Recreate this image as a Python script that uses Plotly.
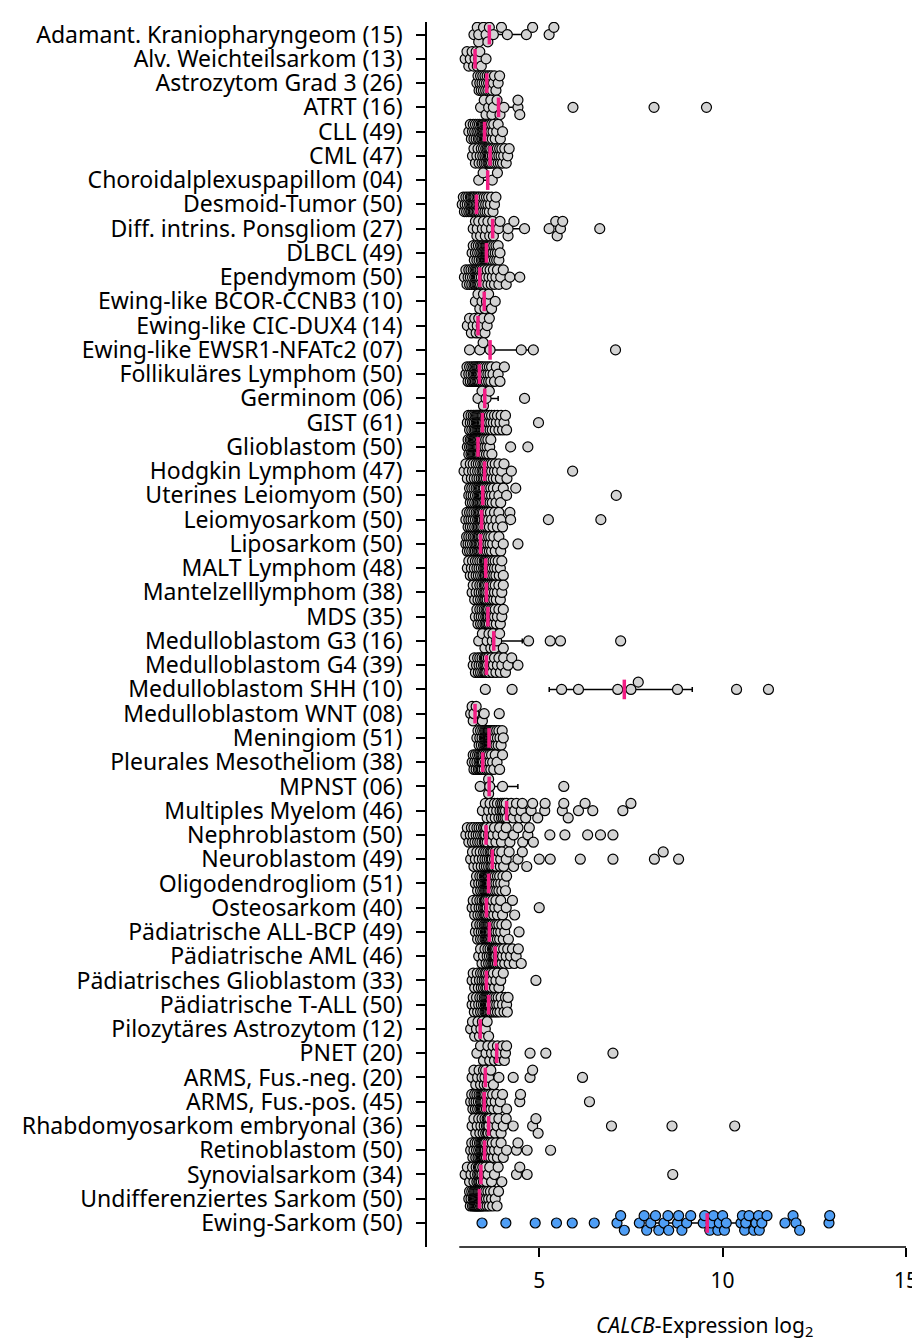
import numpy as np
import plotly.graph_objects as go

labels = [
    "Adamant. Kraniopharyngeom (15)", "Alv. Weichteilsarkom (13)", "Astrozytom Grad 3 (26)", "ATRT (16)",
    "CLL (49)", "CML (47)", "Choroidalplexuspapillom (04)", "Desmoid-Tumor (50)",
    "Diff. intrins. Ponsgliom (27)", "DLBCL (49)", "Ependymom (50)", "Ewing-like BCOR-CCNB3 (10)",
    "Ewing-like CIC-DUX4 (14)", "Ewing-like EWSR1-NFATc2 (07)", "Follikuläres Lymphom (50)", "Germinom (06)",
    "GIST (61)", "Glioblastom (50)", "Hodgkin Lymphom (47)", "Uterines Leiomyom (50)",
    "Leiomyosarkom (50)", "Liposarkom (50)", "MALT Lymphom (48)", "Mantelzelllymphom (38)",
    "MDS (35)", "Medulloblastom G3 (16)", "Medulloblastom G4 (39)", "Medulloblastom SHH (10)",
    "Medulloblastom WNT (08)", "Meningiom (51)", "Pleurales Mesotheliom (38)", "MPNST (06)",
    "Multiples Myelom (46)", "Nephroblastom (50)", "Neuroblastom (49)", "Oligodendrogliom (51)",
    "Osteosarkom (40)", "Pädiatrische ALL-BCP (49)", "Pädiatrische AML (46)", "Pädiatrisches Glioblastom (33)",
    "Pädiatrische T-ALL (50)", "Pilozytäres Astrozytom (12)", "PNET (20)", "ARMS, Fus.-neg. (20)",
    "ARMS, Fus.-pos. (45)", "Rhabdomyosarkom embryonal (36)", "Retinoblastom (50)", "Synovialsarkom (34)",
    "Undifferenziertes Sarkom (50)", "Ewing-Sarkom (50)",
]

adamant = [3.22, 3.31, 3.35, 3.35, 3.48, 3.55, 3.6, 3.64, 3.75, 3.97, 4.13, 4.65, 4.82, 5.27, 5.4]
alv = [2.98, 3.03, 3.08, 3.12, 3.17, 3.21, 3.25, 3.28, 3.31, 3.35, 3.38, 3.42, 3.55]
astro3 = [3.3, 3.33, 3.36, 3.38, 3.4, 3.42, 3.44, 3.46, 3.48, 3.5, 3.52, 3.54, 3.56, 3.58, 3.6, 3.62, 3.64,
          3.66, 3.68, 3.7, 3.72, 3.75, 3.78, 3.82, 3.88, 3.92]
atrt = [3.4, 3.5, 3.55, 3.62, 3.68, 3.71, 3.75, 3.85, 3.93, 4.04, 4.42, 4.42, 4.47, 5.92, 8.13, 9.56]
cll = [3.08, 3.12, 3.15, 3.18, 3.2, 3.22, 3.24, 3.26, 3.28, 3.3, 3.32, 3.34, 3.35, 3.37, 3.38, 3.4, 3.42,
       3.43, 3.44, 3.45, 3.46, 3.47, 3.48, 3.5, 3.51, 3.52, 3.53, 3.54, 3.55, 3.56, 3.57, 3.58, 3.6, 3.61,
       3.62, 3.63, 3.64, 3.65, 3.66, 3.68, 3.7, 3.72, 3.74, 3.76, 3.8, 3.84, 3.88, 3.94, 4.0]
cml = [3.18, 3.22, 3.26, 3.3, 3.33, 3.36, 3.39, 3.42, 3.44, 3.46, 3.48, 3.5, 3.52, 3.54, 3.55, 3.57, 3.58,
       3.6, 3.61, 3.62, 3.63, 3.64, 3.65, 3.66, 3.67, 3.68, 3.7, 3.72, 3.74, 3.76, 3.78, 3.8, 3.82, 3.84,
       3.86, 3.88, 3.9, 3.92, 3.94, 3.96, 3.98, 4.0, 4.03, 4.06, 4.1, 4.14, 4.18]
choroid = [3.35, 3.47, 3.72, 3.86]
desmoid = [2.9, 2.93, 2.96, 2.98, 3.0, 3.02, 3.04, 3.06, 3.08, 3.1, 3.12, 3.13, 3.14, 3.15, 3.16, 3.18, 3.19,
           3.2, 3.21, 3.22, 3.23, 3.24, 3.25, 3.27, 3.28, 3.3, 3.31, 3.32, 3.34, 3.35, 3.36, 3.38, 3.4, 3.42,
           3.44, 3.46, 3.48, 3.5, 3.52, 3.54, 3.56, 3.58, 3.6, 3.62, 3.64, 3.67, 3.7, 3.74, 3.78, 3.82]
dipg = [3.2, 3.26, 3.3, 3.31, 3.35, 3.4, 3.45, 3.48, 3.53, 3.55, 3.6, 3.65, 3.7, 3.73, 3.75, 3.89, 3.93, 4.15,
        4.15, 4.31, 4.6, 5.27, 5.45, 5.49, 5.58, 5.64, 6.65]
dlbcl = [3.17, 3.2, 3.23, 3.26, 3.28, 3.3, 3.32, 3.34, 3.36, 3.38, 3.4, 3.42, 3.43, 3.44, 3.46, 3.47, 3.48,
         3.5, 3.51, 3.52, 3.53, 3.54, 3.55, 3.55, 3.56, 3.57, 3.58, 3.59, 3.6, 3.61, 3.62, 3.63, 3.64, 3.65,
         3.66, 3.67, 3.68, 3.7, 3.72, 3.74, 3.76, 3.78, 3.8, 3.82, 3.84, 3.86, 3.88, 3.9, 3.93]
ependymom = [2.96, 3.0, 3.03, 3.06, 3.08, 3.1, 3.12, 3.14, 3.16, 3.18, 3.2, 3.22, 3.24, 3.25, 3.26, 3.28,
             3.29, 3.3, 3.31, 3.32, 3.33, 3.34, 3.35, 3.36, 3.37, 3.39, 3.4, 3.42, 3.44, 3.46, 3.48, 3.5,
             3.52, 3.55, 3.58, 3.6, 3.63, 3.66, 3.69, 3.72, 3.75, 3.78, 3.82, 3.86, 3.9, 3.95, 4.02, 4.1,
             4.2, 4.47]
bcor = [3.26, 3.33, 3.38, 3.44, 3.48, 3.52, 3.56, 3.62, 3.7, 3.8]
cicdux = [3.04, 3.1, 3.15, 3.2, 3.24, 3.28, 3.31, 3.35, 3.38, 3.42, 3.47, 3.52, 3.58, 3.64]
nfatc2 = [3.1, 3.38, 3.47, 3.66, 4.51, 4.84, 7.08]
follikulaer = [3.0, 3.03, 3.06, 3.08, 3.1, 3.12, 3.14, 3.16, 3.18, 3.2, 3.21, 3.22, 3.24, 3.25, 3.26, 3.28,
               3.29, 3.3, 3.31, 3.32, 3.33, 3.34, 3.35, 3.36, 3.36, 3.38, 3.39, 3.4, 3.42, 3.43, 3.45,
               3.46, 3.48, 3.5, 3.52, 3.54, 3.56, 3.58, 3.6, 3.62, 3.64, 3.66, 3.68, 3.7, 3.74, 3.78,
               3.83, 3.88, 3.93, 4.05]
germinom = [3.33, 3.44, 3.48, 3.55, 3.64, 4.6]
gist = [3.04, 3.07, 3.1, 3.12, 3.14, 3.16, 3.18, 3.2, 3.22, 3.23, 3.25, 3.26, 3.28, 3.29, 3.3, 3.31, 3.32,
        3.33, 3.34, 3.35, 3.36, 3.37, 3.38, 3.39, 3.4, 3.41, 3.42, 3.43, 3.44, 3.44, 3.45, 3.46, 3.47, 3.48,
        3.49, 3.5, 3.52, 3.53, 3.55, 3.56, 3.58, 3.6, 3.62, 3.64, 3.66, 3.68, 3.7, 3.72, 3.75, 3.78, 3.8,
        3.83, 3.86, 3.9, 3.93, 3.96, 4.0, 4.04, 4.08, 4.11, 4.98]
glioblastom = [3.04, 3.06, 3.08, 3.1, 3.12, 3.14, 3.15, 3.16, 3.18, 3.19, 3.2, 3.21, 3.22, 3.23, 3.24, 3.25,
               3.26, 3.27, 3.28, 3.29, 3.3, 3.31, 3.32, 3.32, 3.33, 3.33, 3.34, 3.35, 3.36, 3.37, 3.38,
               3.4, 3.41, 3.42, 3.44, 3.45, 3.46, 3.48, 3.5, 3.52, 3.54, 3.56, 3.58, 3.6, 3.62, 3.65,
               3.68, 3.71, 4.22, 4.69]
hodgkin = [2.95, 3.0, 3.04, 3.08, 3.12, 3.15, 3.18, 3.2, 3.23, 3.25, 3.28, 3.3, 3.32, 3.34, 3.36, 3.38, 3.4,
           3.42, 3.44, 3.46, 3.47, 3.48, 3.5, 3.51, 3.52, 3.54, 3.56, 3.58, 3.6, 3.62, 3.64, 3.66, 3.68,
           3.7, 3.72, 3.75, 3.78, 3.8, 3.83, 3.86, 3.9, 3.94, 3.98, 4.04, 4.12, 4.24, 5.91]
leiomyom = [3.08, 3.1, 3.12, 3.14, 3.16, 3.18, 3.2, 3.22, 3.24, 3.26, 3.28, 3.3, 3.32, 3.33, 3.34, 3.36,
            3.37, 3.38, 3.39, 3.4, 3.41, 3.42, 3.43, 3.45, 3.45, 3.47, 3.48, 3.49, 3.5, 3.52, 3.54, 3.56,
            3.58, 3.6, 3.62, 3.64, 3.66, 3.68, 3.7, 3.72, 3.75, 3.78, 3.82, 3.86, 3.9, 3.95, 4.02, 4.11,
            4.36, 7.1]
leiomyosarkom = [3.0, 3.03, 3.06, 3.08, 3.1, 3.12, 3.14, 3.16, 3.18, 3.2, 3.22, 3.24, 3.26, 3.28, 3.3,
                 3.32, 3.33, 3.34, 3.36, 3.37, 3.38, 3.39, 3.4, 3.42, 3.42, 3.44, 3.45, 3.46, 3.48, 3.5,
                 3.52, 3.54, 3.56, 3.58, 3.6, 3.62, 3.64, 3.67, 3.7, 3.74, 3.78, 3.82, 3.86, 3.9, 3.95,
                 4.0, 4.2, 4.22, 5.25, 6.68]
liposarkom = [3.0, 3.02, 3.04, 3.06, 3.08, 3.1, 3.12, 3.14, 3.16, 3.18, 3.2, 3.22, 3.24, 3.25, 3.26, 3.28,
              3.3, 3.31, 3.32, 3.34, 3.35, 3.36, 3.37, 3.38, 3.39, 3.41, 3.42, 3.43, 3.44, 3.46, 3.48,
              3.5, 3.52, 3.54, 3.56, 3.58, 3.6, 3.62, 3.64, 3.66, 3.68, 3.7, 3.73, 3.76, 3.8, 3.85, 3.9,
              3.95, 4.02, 4.42]
malt = [3.04, 3.08, 3.12, 3.15, 3.18, 3.2, 3.23, 3.26, 3.28, 3.3, 3.32, 3.34, 3.36, 3.38, 3.4, 3.42, 3.44,
        3.46, 3.48, 3.5, 3.51, 3.52, 3.53, 3.53, 3.55, 3.56, 3.57, 3.58, 3.6, 3.61, 3.62, 3.63, 3.64, 3.66,
        3.68, 3.7, 3.72, 3.74, 3.76, 3.78, 3.8, 3.82, 3.85, 3.88, 3.91, 3.94, 3.98, 4.02]
mantelzell = [3.17, 3.2, 3.24, 3.28, 3.3, 3.33, 3.36, 3.38, 3.4, 3.42, 3.44, 3.46, 3.48, 3.5, 3.51, 3.52,
              3.53, 3.54, 3.55, 3.57, 3.58, 3.6, 3.62, 3.64, 3.66, 3.68, 3.7, 3.72, 3.74, 3.76, 3.78, 3.8,
              3.83, 3.86, 3.9, 3.94, 3.98, 4.02]
mds = [3.26, 3.3, 3.33, 3.36, 3.38, 3.4, 3.42, 3.44, 3.46, 3.48, 3.5, 3.52, 3.54, 3.55, 3.56, 3.58, 3.59,
       3.6, 3.61, 3.62, 3.64, 3.66, 3.68, 3.7, 3.72, 3.74, 3.76, 3.78, 3.8, 3.83, 3.86, 3.9, 3.94, 3.98, 4.02]
medullo_g3 = [3.35, 3.45, 3.52, 3.58, 3.63, 3.68, 3.72, 3.74, 3.78, 3.84, 3.92, 4.02, 4.71, 5.3, 5.58, 7.22]
medullo_g4 = [3.2, 3.23, 3.26, 3.29, 3.32, 3.34, 3.36, 3.38, 3.4, 3.42, 3.44, 3.46, 3.48, 3.5, 3.51, 3.52,
              3.53, 3.54, 3.55, 3.56, 3.57, 3.59, 3.61, 3.63, 3.66, 3.69, 3.72, 3.75, 3.78, 3.82, 3.86, 3.9,
              3.94, 3.98, 4.03, 4.08, 4.15, 4.25, 4.42]
medullo_shh = [3.53, 4.26, 5.61, 6.07, 7.14, 7.5, 7.7, 8.77, 10.38, 11.25]
medullo_wnt = [3.13, 3.17, 3.2, 3.22, 3.28, 3.45, 3.5, 3.91]
meningiom = [3.3, 3.33, 3.36, 3.38, 3.4, 3.42, 3.44, 3.46, 3.48, 3.5, 3.51, 3.52, 3.53, 3.54, 3.55, 3.56,
             3.57, 3.58, 3.59, 3.6, 3.6, 3.61, 3.61, 3.62, 3.62, 3.63, 3.64, 3.64, 3.65, 3.66, 3.67, 3.68,
             3.69, 3.7, 3.71, 3.72, 3.73, 3.74, 3.75, 3.76, 3.78, 3.8, 3.82, 3.84, 3.86, 3.88, 3.9, 3.93,
             3.96, 3.99, 4.02]
mesotheliom = [3.17, 3.2, 3.22, 3.24, 3.26, 3.28, 3.3, 3.32, 3.34, 3.36, 3.37, 3.38, 3.4, 3.41, 3.42, 3.43,
               3.44, 3.45, 3.45, 3.47, 3.48, 3.5, 3.52, 3.54, 3.56, 3.58, 3.6, 3.62, 3.64, 3.66, 3.68, 3.7,
               3.73, 3.76, 3.8, 3.85, 3.92, 4.0]
mpnst = [3.39, 3.62, 3.62, 3.65, 4.0, 5.67]
myelom = [3.45, 3.53, 3.58, 3.62, 3.66, 3.7, 3.75, 3.78, 3.8, 3.84, 3.86, 3.9, 3.93, 3.95, 3.97, 3.99, 4.0,
          4.02, 4.03, 4.05, 4.07, 4.08, 4.1, 4.12, 4.18, 4.24, 4.29, 4.33, 4.38, 4.47, 4.51, 4.54, 4.63,
          4.78, 4.82, 4.96, 5.15, 5.16, 5.63, 5.67, 5.79, 6.07, 6.25, 6.46, 7.28, 7.5]
nephroblastom = [3.0, 3.04, 3.08, 3.12, 3.15, 3.18, 3.2, 3.22, 3.25, 3.28, 3.3, 3.32, 3.34, 3.36, 3.38,
                 3.4, 3.42, 3.44, 3.46, 3.48, 3.5, 3.51, 3.52, 3.53, 3.54, 3.56, 3.58, 3.62, 3.66, 3.7,
                 3.74, 3.78, 3.82, 3.87, 3.92, 3.97, 4.02, 4.1, 4.2, 4.3, 4.42, 4.55, 4.69, 4.73, 4.84,
                 5.29, 5.7, 6.32, 6.67, 7.01]
neuroblastom = [3.13, 3.18, 3.22, 3.26, 3.3, 3.33, 3.36, 3.39, 3.42, 3.45, 3.48, 3.5, 3.52, 3.54, 3.56,
                3.58, 3.6, 3.62, 3.64, 3.66, 3.68, 3.69, 3.7, 3.71, 3.72, 3.74, 3.76, 3.78, 3.8, 3.83, 3.86,
                3.9, 3.94, 3.95, 3.98, 4.03, 4.1, 4.18, 4.3, 4.42, 4.54, 4.66, 5.0, 5.3, 6.12, 7.01, 8.14,
                8.38, 8.8]
oligo = [3.26, 3.29, 3.32, 3.35, 3.38, 3.4, 3.42, 3.44, 3.46, 3.48, 3.5, 3.51, 3.52, 3.53, 3.54, 3.55, 3.56,
         3.57, 3.58, 3.59, 3.6, 3.6, 3.61, 3.61, 3.62, 3.62, 3.63, 3.64, 3.65, 3.66, 3.67, 3.68, 3.7, 3.71,
         3.72, 3.74, 3.76, 3.78, 3.8, 3.82, 3.84, 3.86, 3.88, 3.9, 3.92, 3.95, 3.98, 4.01, 4.04, 4.08, 4.11]
osteosarkom = [3.17, 3.2, 3.24, 3.27, 3.3, 3.33, 3.36, 3.38, 3.4, 3.42, 3.44, 3.46, 3.48, 3.5, 3.51, 3.52,
               3.53, 3.54, 3.55, 3.55, 3.57, 3.58, 3.6, 3.62, 3.64, 3.66, 3.68, 3.7, 3.73, 3.76, 3.79,
               3.82, 3.86, 3.9, 3.95, 4.0, 4.1, 4.27, 4.33, 5.0]
all_bcp = [3.26, 3.29, 3.32, 3.35, 3.38, 3.4, 3.42, 3.44, 3.46, 3.48, 3.5, 3.52, 3.53, 3.54, 3.55, 3.56,
           3.57, 3.58, 3.59, 3.6, 3.61, 3.62, 3.62, 3.63, 3.64, 3.65, 3.66, 3.67, 3.68, 3.7, 3.71, 3.72,
           3.74, 3.76, 3.78, 3.8, 3.82, 3.84, 3.86, 3.88, 3.9, 3.92, 3.95, 3.98, 4.02, 4.06, 4.1, 4.16, 4.45]
aml = [3.35, 3.4, 3.44, 3.48, 3.52, 3.55, 3.58, 3.6, 3.62, 3.64, 3.66, 3.68, 3.7, 3.72, 3.73, 3.74, 3.75,
       3.76, 3.77, 3.78, 3.79, 3.79, 3.8, 3.8, 3.81, 3.82, 3.84, 3.86, 3.88, 3.9, 3.92, 3.94, 3.96, 3.98,
       4.0, 4.03, 4.06, 4.1, 4.14, 4.18, 4.22, 4.27, 4.32, 4.37, 4.43, 4.51]
paed_gbm = [3.17, 3.2, 3.24, 3.28, 3.31, 3.34, 3.37, 3.4, 3.42, 3.44, 3.46, 3.48, 3.5, 3.52, 3.54, 3.55,
            3.56, 3.58, 3.6, 3.62, 3.64, 3.66, 3.68, 3.7, 3.72, 3.75, 3.78, 3.82, 3.86, 3.9, 3.95, 4.02, 4.91]
t_all = [3.17, 3.2, 3.23, 3.26, 3.29, 3.32, 3.35, 3.38, 3.4, 3.42, 3.44, 3.46, 3.48, 3.5, 3.52, 3.53, 3.54,
         3.55, 3.56, 3.57, 3.58, 3.59, 3.6, 3.61, 3.61, 3.63, 3.64, 3.65, 3.66, 3.67, 3.68, 3.7, 3.72,
         3.74, 3.76, 3.78, 3.8, 3.82, 3.84, 3.86, 3.88, 3.9, 3.93, 3.96, 4.0, 4.04, 4.08, 4.11, 4.13, 4.15]
pilozyt = [3.13, 3.18, 3.24, 3.29, 3.33, 3.37, 3.41, 3.45, 3.49, 3.53, 3.58, 3.62]
pnet = [3.3, 3.4, 3.48, 3.55, 3.6, 3.65, 3.7, 3.74, 3.78, 3.82, 3.86, 3.9, 3.95, 4.0, 4.05, 4.08, 4.11,
        4.75, 5.18, 7.01]
arms_neg = [3.17, 3.22, 3.27, 3.32, 3.36, 3.4, 3.44, 3.48, 3.5, 3.52, 3.54, 3.58, 3.62, 3.68, 3.75, 3.9,
            4.29, 4.75, 4.82, 6.18]
arms_pos = [3.13, 3.16, 3.19, 3.22, 3.24, 3.26, 3.28, 3.3, 3.32, 3.34, 3.36, 3.38, 3.4, 3.41, 3.42, 3.43,
            3.44, 3.45, 3.46, 3.47, 3.48, 3.49, 3.5, 3.51, 3.52, 3.54, 3.56, 3.58, 3.6, 3.62, 3.64, 3.66,
            3.68, 3.7, 3.73, 3.76, 3.8, 3.84, 3.88, 3.94, 4.0, 4.11, 4.47, 4.49, 6.37]
erms = [3.17, 3.22, 3.27, 3.31, 3.35, 3.38, 3.41, 3.44, 3.47, 3.5, 3.52, 3.54, 3.56, 3.58, 3.59, 3.6, 3.61,
        3.61, 3.63, 3.65, 3.68, 3.72, 3.76, 3.8, 3.85, 3.9, 3.96, 4.02, 4.1, 4.29, 4.82, 4.91, 4.97, 6.97,
        8.62, 10.33]
retinoblastom = [3.13, 3.16, 3.19, 3.22, 3.25, 3.27, 3.29, 3.31, 3.33, 3.35, 3.37, 3.38, 3.4, 3.41, 3.42,
                 3.43, 3.44, 3.45, 3.46, 3.47, 3.48, 3.49, 3.5, 3.5, 3.51, 3.51, 3.52, 3.53, 3.54, 3.56,
                 3.58, 3.6, 3.62, 3.64, 3.66, 3.68, 3.7, 3.72, 3.75, 3.78, 3.82, 3.86, 3.9, 3.96, 4.02,
                 4.11, 4.38, 4.42, 4.67, 5.31]
synovial = [2.98, 3.04, 3.1, 3.14, 3.18, 3.22, 3.25, 3.28, 3.3, 3.32, 3.34, 3.35, 3.36, 3.37, 3.38, 3.4,
            3.4, 3.42, 3.44, 3.46, 3.48, 3.5, 3.53, 3.56, 3.6, 3.65, 3.7, 3.78, 3.88, 3.98, 4.38, 4.47,
            4.67, 8.64]
undiff = [3.08, 3.1, 3.12, 3.14, 3.16, 3.18, 3.2, 3.21, 3.22, 3.23, 3.24, 3.25, 3.26, 3.27, 3.28, 3.29,
          3.3, 3.31, 3.32, 3.33, 3.34, 3.35, 3.35, 3.36, 3.36, 3.38, 3.39, 3.4, 3.41, 3.42, 3.43, 3.44,
          3.45, 3.46, 3.48, 3.5, 3.52, 3.54, 3.56, 3.58, 3.6, 3.62, 3.64, 3.67, 3.7, 3.73, 3.76, 3.8,
          3.85, 3.89]
ewing = [3.44, 4.09, 4.89, 5.47, 5.9, 6.5, 7.12, 7.22, 7.32, 7.73, 7.86, 7.93, 8.04, 8.17, 8.26, 8.4, 8.51,
         8.53, 8.77, 8.8, 8.89, 9.02, 9.13, 9.47, 9.51, 9.65, 9.69, 9.75, 9.87, 9.91, 10.0, 10.05, 10.1,
         10.5, 10.54, 10.6, 10.63, 10.72, 10.85, 10.91, 10.98, 11.0, 11.07, 11.21, 11.7, 11.92, 12.0, 12.1,
         12.9, 12.92]

groups = [adamant, alv, astro3, atrt, cll, cml, choroid, desmoid, dipg, dlbcl, ependymom, bcor, cicdux,
          nfatc2, follikulaer, germinom, gist, glioblastom, hodgkin, leiomyom, leiomyosarkom, liposarkom,
          malt, mantelzell, mds, medullo_g3, medullo_g4, medullo_shh, medullo_wnt, meningiom, mesotheliom,
          mpnst, myelom, nephroblastom, neuroblastom, oligo, osteosarkom, all_bcp, aml, paed_gbm, t_all,
          pilozyt, pnet, arms_neg, arms_pos, erms, retinoblastom, synovial, undiff, ewing]
highlight = "Ewing-Sarkom (50)"
xtick_vals = [5, 10, 15]

# ---- layout constants ----
W, H = 920, 1343
ML, MR, MT, MB = 419, 14, 10, 104
XR = [1.94, 15.0]
YR = [49.99, -0.52]
PX_PER_UNIT = (W - ML - MR) / (XR[1] - XR[0])
DIAM = 10.0
LEVEL = 0.3
FONT = "Noto Sans"
GREY, BLUE, PINK = "#d3d3d3", "#4f9ef5", "#f21d84"


def swarm(vals):
    vals = np.asarray(vals, float)
    order = np.argsort(vals, kind="stable")
    last = {0: -1e9, -1: -1e9, 1: -1e9}
    offs = np.zeros(len(vals))
    for i in order:
        xp = vals[i] * PX_PER_UNIT
        chosen = None
        for lv in (0, -1, 1):
            if xp - last[lv] >= DIAM:
                chosen = lv
                break
        if chosen is None:
            chosen = max((0, -1, 1), key=lambda lv: xp - last[lv])
        last[chosen] = xp
        offs[i] = chosen * LEVEL
    return offs


gx, gy, bx, by = [], [], [], []
med, q1, q3 = [], [], []
for k, vals in enumerate(groups):
    offs = swarm(vals)
    if labels[k] == highlight:
        bx += list(vals); by += list(k + offs)
    else:
        gx += list(vals); gy += list(k + offs)
    arr = np.asarray(vals, float)
    med.append(float(np.median(arr)))
    q1.append(float(np.percentile(arr, 25, method="weibull")))
    q3.append(float(np.percentile(arr, 75, method="weibull")))

rows = list(range(len(labels)))
med = np.array(med); q1 = np.array(q1); q3 = np.array(q3)

fig = go.Figure()
fig.add_trace(go.Scatter(
    x=med, y=rows, mode="markers", marker=dict(size=1, opacity=0),
    error_x=dict(type="data", symmetric=False, array=q3 - med, arrayminus=med - q1,
                 color="black", thickness=1.5, width=2.5),
    hoverinfo="skip", showlegend=False))
fig.add_trace(go.Scatter(
    x=gx, y=gy, mode="markers",
    marker=dict(size=DIAM, color=GREY, line=dict(color="black", width=1.2)), showlegend=False))
fig.add_trace(go.Scatter(
    x=bx, y=by, mode="markers",
    marker=dict(size=DIAM, color=BLUE, line=dict(color="black", width=1.2)), showlegend=False))
fig.add_trace(go.Scatter(
    x=med, y=rows, mode="markers",
    marker=dict(symbol="line-ns", size=14, line=dict(color=PINK, width=3.5)), showlegend=False))

fig.add_shape(type="line", xref="x", yref="paper", x0=2.82, x1=15, y0=0, y1=0,
              line=dict(color="black", width=1.5))

fig.update_xaxes(range=XR, tickvals=xtick_vals, ticks="outside", ticklen=9, tickwidth=1.5,
                 tickcolor="black", showline=False, showgrid=False, zeroline=False,
                 tickfont=dict(family=FONT, size=21, color="black"), ticklabelstandoff=6)
fig.update_yaxes(range=YR, tickvals=rows, ticktext=labels, ticks="outside", ticklen=9, tickwidth=1.5,
                 tickcolor="black", showline=True, linewidth=1.5, linecolor="black", showgrid=False,
                 zeroline=False, tickfont=dict(family=FONT, size=23, color="black"),
                 ticklabelstandoff=9)

fig.add_annotation(text="<i>CALCB</i>-Expression log<sub>2</sub>", xref="paper", yref="paper",
                   x=(701 - ML) / (W - ML - MR), y=(1239 - 1318) / (H - MT - MB),
                   xanchor="center", yanchor="middle", showarrow=False,
                   font=dict(family=FONT, size=21, color="black"))

fig.update_layout(width=W, height=H, margin=dict(l=ML, r=MR, t=MT, b=MB),
                  plot_bgcolor="white", paper_bgcolor="white", showlegend=False)
fig.write_html("out.html")
